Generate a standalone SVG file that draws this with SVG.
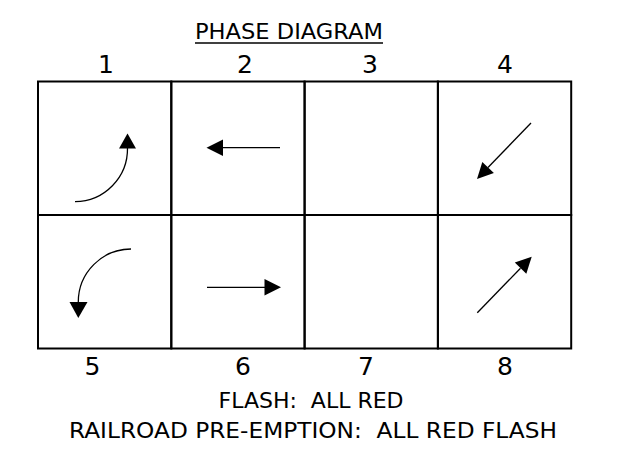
<svg xmlns="http://www.w3.org/2000/svg" width="624" height="463" viewBox="0 0 624 463">
<style>
.cell{fill:none;stroke:#000;stroke-width:2}
.arr{fill:none;stroke:#000;stroke-width:1.3}
.head{fill:#000;stroke:none}
.t{font-family:"DejaVu Sans",Verdana,sans-serif;font-size:22px;fill:#000;text-anchor:middle;white-space:pre}
.n{font-family:"DejaVu Sans",Verdana,sans-serif;font-size:25px;fill:#000;text-anchor:middle}
</style>
<rect width="624" height="463" fill="#fff"/>
<g id="title">
<text class="t" x="289" y="38.5" textLength="188" lengthAdjust="spacingAndGlyphs">PHASE DIAGRAM</text>
<line x1="195" y1="43" x2="383" y2="43" stroke="#000" stroke-width="1.3"/>
</g>
<g id="phase1">
<rect class="cell" x="38" y="81.5" width="133.3" height="133.5"/>
<text class="n" x="106" y="73">1</text>
<path class="arr" d="M75,201.7 A53,53 0 0 0 127.5,148"/>
<polygon class="head" points="127.5,133.5 119,148.5 136,148.5"/>
</g>
<g id="phase2">
<rect class="cell" x="171.3" y="81.5" width="133.3" height="133.5"/>
<text class="n" x="245" y="73">2</text>
<line class="arr" x1="280" y1="147.7" x2="222" y2="147.7"/>
<polygon class="head" points="206.5,147.7 223,139.5 223,156"/>
</g>
<g id="phase3">
<rect class="cell" x="304.6" y="81.5" width="133.3" height="133.5"/>
<text class="n" x="370" y="73">3</text>
</g>
<g id="phase4">
<rect class="cell" x="437.9" y="81.5" width="133.3" height="133.5"/>
<text class="n" x="505" y="73">4</text>
<line class="arr" x1="531" y1="123" x2="488" y2="167.5"/>
<polygon class="head" points="477,179 493.9,173.1 482.3,162"/>
</g>
<g id="phase5">
<rect class="cell" x="38" y="215" width="133.3" height="133.5"/>
<text class="n" x="92.5" y="375">5</text>
<path class="arr" d="M131,249 A53,53 0 0 0 78.3,302"/>
<polygon class="head" points="78.3,318 69.5,302 87.5,302"/>
</g>
<g id="phase6">
<rect class="cell" x="171.3" y="215" width="133.3" height="133.5"/>
<text class="n" x="243" y="375">6</text>
<line class="arr" x1="207" y1="287.3" x2="266" y2="287.3"/>
<polygon class="head" points="281,287.3 264.5,279 264.5,295.5"/>
</g>
<g id="phase7">
<rect class="cell" x="304.6" y="215" width="133.3" height="133.5"/>
<text class="n" x="366" y="375">7</text>
</g>
<g id="phase8">
<rect class="cell" x="437.9" y="215" width="133.3" height="133.5"/>
<text class="n" x="505" y="375">8</text>
<line class="arr" x1="477.3" y1="312.7" x2="520.5" y2="268.2"/>
<polygon class="head" points="531.7,256.7 526.3,273.8 514.8,262.6"/>
</g>
<g id="notes">
<text class="t" x="311" y="408" textLength="185" lengthAdjust="spacingAndGlyphs" xml:space="preserve">FLASH:  ALL RED</text>
<text class="t" x="313" y="438" textLength="488" lengthAdjust="spacingAndGlyphs" xml:space="preserve">RAILROAD PRE-EMPTION:  ALL RED FLASH</text>
</g>
<g id="connectors"></g>
</svg>
